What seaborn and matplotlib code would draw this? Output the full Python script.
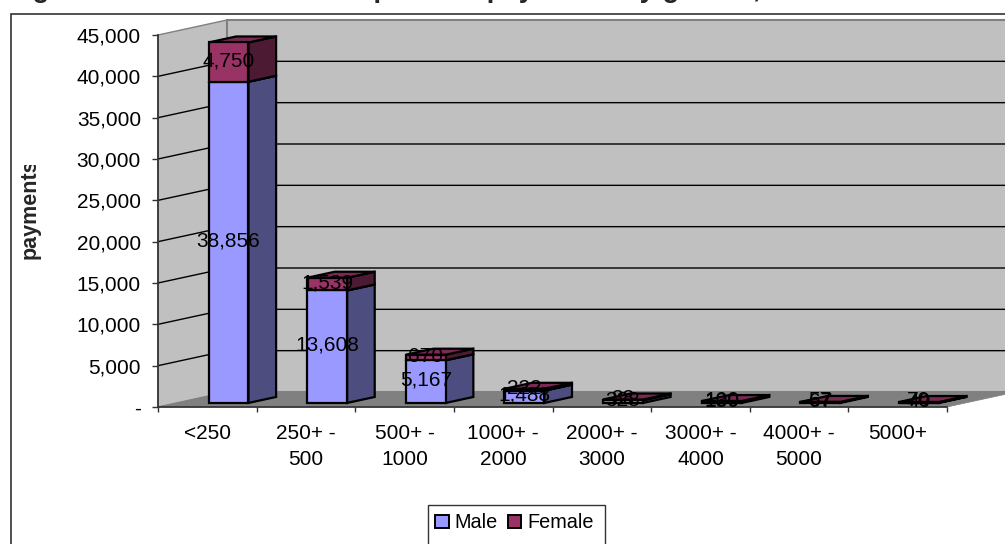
import numpy as np
import pandas as pd
import matplotlib
matplotlib.use('Agg')
import matplotlib.pyplot as plt
from matplotlib.patches import Patch, Polygon, Rectangle
from matplotlib.transforms import Bbox
import seaborn as sns

# Datos
categories = ['<250', '250+ -\n500', '500+ -\n1000', '1000+ -\n2000', '2000+ -\n3000',
              '3000+ -\n4000', '4000+ -\n5000', '5000+']
male = [38856, 13608, 5167, 1488, 328, 130, 67, 40]
female = [4750, 1539, 670, 222, 88, 100, 57, 70]
y_ticks = [0, 5000, 10000, 15000, 20000, 25000, 30000, 35000, 40000, 45000]

sns.set_theme(style='white')
plt.rcParams['font.family'] = ['Liberation Sans', 'DejaVu Sans']

W, H = 1005, 544
df = pd.DataFrame({'cat': categories, 'male': male, 'female': female})

fig = plt.figure(figsize=(W / 100, H / 100), dpi=100)
ax = fig.add_axes([158 / W, (H - 407) / H, 789 / W, 372 / H])
ax.patch.set_alpha(0)

# Profundidad 3D: una unidad = fondo del grafico
DX = 0.70
DY = 1815


def walls(ax):
    x0, x1 = -0.5, 7.5
    y1 = y_ticks[-1]
    ax.add_patch(Polygon([(x0, 0), (x0 + DX, DY), (x0 + DX, y1 + DY), (x0, y1)],
                         fc='#C0C0C0', ec='#808080', lw=1, clip_on=False, zorder=0))
    ax.add_patch(Polygon([(x0 + DX, DY), (x1 + DX, DY), (x1 + DX, y1 + DY), (x0 + DX, y1 + DY)],
                         fc='#C0C0C0', ec='#808080', lw=1.5, clip_on=False, zorder=0))
    ax.add_patch(Polygon([(x0, 0), (x1, 0), (x1 + DX, DY), (x0 + DX, DY)],
                         fc='#808080', ec='#808080', lw=0.5, clip_on=False, zorder=0.1))
    for t in y_ticks[1:-1]:
        ax.plot([x0, x0 + DX, x1 + DX], [t, t + DY, t + DY], color='black', lw=1,
                clip_on=False, zorder=0.2)


walls(ax)

bar_kw = dict(data=df, x='cat', width=0.405, saturation=1, edgecolor='black',
              linewidth=1.6, ax=ax, zorder=2)
sns.barplot(y='male', color='#9999FF', **bar_kw)
sns.barplot(y='female', bottom=df['male'], color='#993366', **bar_kw)

# Mover las barras hacia dentro y dibujar caras laterales
shift_x, shift_y = 0.215, 0.27 * DY
side_x, side_y = 0.4 * DX, 0.4 * DY
faces = [('#4D4D80', '#7A7ACC'), ('#4D1A33', '#7A2952')]
for cont, (side_c, top_c) in zip(ax.containers, faces):
    for p in cont.patches:
        p.set_x(p.get_x() + shift_x)
        p.set_y(p.get_y() + shift_y)
        p.set_clip_on(False)
        x, y, w, h = p.get_x(), p.get_y(), p.get_width(), p.get_height()
        ax.add_patch(Polygon([(x + w, y), (x + w + side_x, y + side_y),
                              (x + w + side_x, y + h + side_y), (x + w, y + h)],
                             fc=side_c, ec='black', lw=1.6, clip_on=False, zorder=1.5))
        ax.add_patch(Polygon([(x, y + h), (x + w, y + h), (x + w + side_x, y + h + side_y),
                              (x + side_x, y + h + side_y)],
                             fc=top_c, ec='black', lw=1.6, clip_on=False, zorder=1.5))
    ax.bar_label(cont, fmt='{:,.0f}', label_type='center', fontsize=15, color='black',
                 padding=1, clip_on=False, zorder=5)

ax.set_xlim(-0.5, 7.5)
ax.set_ylim(0, 45000)
ax.set_xlabel('')
ax.set_ylabel('')
ax.set_yticks(y_ticks)
ax.set_yticklabels(['-' if t == 0 else f'{t:,}' for t in y_ticks], fontsize=15, color='black')
ax.set_xticks(range(len(categories)))
ax.set_xticklabels(categories, fontsize=15, color='black', linespacing=1.5)
ax.set_xticks(np.arange(-0.5, 8, 1), minor=True)
ax.tick_params(axis='x', which='major', length=0, pad=12)
ax.tick_params(axis='x', which='minor', length=3.6, width=1, color='#333333', bottom=True)
ax.tick_params(axis='y', length=4.3, width=1, color='#333333', pad=8, left=True)
sns.despine(ax=ax, top=True, right=True)
ax.spines['left'].set_color('#333333')
ax.spines['bottom'].set_color('#333333')
ax.spines['bottom'].set_zorder(3)

# Marco del grafico, cortado por el borde de la imagen
fig.add_artist(Rectangle((11 / W, -0.1), 1.1, 1.1 - 14 / H, transform=fig.transFigure,
                         fc='none', ec='#333333', lw=1.2))
fig.add_artist(Rectangle((428 / W, -0.1), 177 / W, 0.1 + (H - 505) / H, transform=fig.transFigure,
                         fc='white', ec='#333333', lw=1))

# Titulo: solo se ven los rasgos inferiores de las letras
fig.text(8 / W, 1 + 3 / H, 'Figure 5: Number of annual pension payments by gender, 2007',
         fontsize=19.8, fontweight='bold', va='baseline', ha='left')

label = fig.text(30 / W, (H - 209) / H, 'payments', rotation=90, fontsize=15.5, fontweight='bold',
                 ha='center', va='center', clip_on=True)
label.set_clip_box(Bbox([[0, 0], [W, H - 165]]))

fig.legend(handles=[Patch(fc='#9999FF', ec='black', lw=1.4, label='Male'),
                    Patch(fc='#993366', ec='black', lw=1.4, label='Female')],
           loc='center', bbox_to_anchor=(514.5 / W, (H - 523) / H), ncol=2, frameon=False,
           fontsize=14.3, handlelength=0.68, handleheight=0.68, handletextpad=0.3,
           columnspacing=0.5, borderpad=0, labelcolor='black')

fig.savefig('out.png', dpi=100)
